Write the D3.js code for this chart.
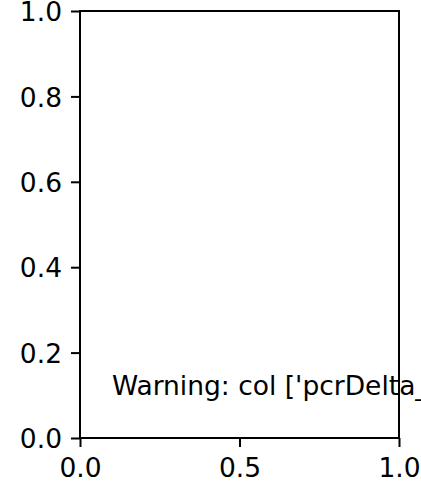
<!DOCTYPE html>
<html><head><meta charset="utf-8">
<script src="https://cdn.jsdelivr.net/npm/d3@7"></script>
<style>html,body{margin:0;padding:0;background:#fff;overflow:hidden}</style>
</head><body>
<script>
const xTicks = [0.0, 0.5, 1.0];
const yTicks = [0.0, 0.2, 0.4, 0.6, 0.8, 1.0];
const xTickLabels = ["0.0", "0.5", "1.0"];
const yTickLabels = ["0.0", "0.2", "0.4", "0.6", "0.8", "1.0"];
const noteText = ["Warning: col ['pcrDelta_"];
const notePos = [[0.1, 0.1]];

const W = 421, H = 482;
const m = {left: 80, right: 399, top: 11, bottom: 438};
const fs = 26.5;
const svg = d3.select("body").append("svg").attr("width", W).attr("height", H)
  .style("font-family", "'DejaVu Sans'");
const x = d3.scaleLinear().domain([0, 1]).range([m.left, m.right]);
const y = d3.scaleLinear().domain([0, 1]).range([m.bottom, m.top]);

const xAxis = d3.axisBottom(x).tickValues(xTicks).tickFormat((d, i) => xTickLabels[i])
  .tickSizeInner(9).tickSizeOuter(0).tickPadding(9);
const yAxis = d3.axisLeft(y).tickValues(yTicks).tickFormat((d, i) => yTickLabels[i])
  .tickSizeInner(9).tickSizeOuter(0).tickPadding(9);

const gx = svg.append("g").attr("transform", `translate(0,${m.bottom})`).call(xAxis);
const gy = svg.append("g").attr("transform", `translate(${m.left},0)`).call(yAxis);
[gx, gy].forEach(g => {
  g.select(".domain").remove();
  g.selectAll("line").attr("stroke", "#000").attr("stroke-width", 2);
  g.selectAll("text").attr("fill", "#000").style("font-size", fs + "px").style("font-family", "'DejaVu Sans'");
});
gy.selectAll("text").attr("dy", "0.365em");
gx.selectAll("text").attr("dy", "21px");

// spines
svg.append("rect").attr("x", m.left).attr("y", m.top)
  .attr("width", m.right - m.left).attr("height", m.bottom - m.top)
  .attr("fill", "none").attr("stroke", "#000").attr("stroke-width", 2);

svg.selectAll("text.note").data(noteText).enter().append("text").attr("class", "note")
  .attr("x", (d, i) => x(notePos[i][0])).attr("y", (d, i) => y(notePos[i][1]))
  .style("font-size", fs + "px").attr("fill", "#000").text(d => d);
</script>
</body></html>
